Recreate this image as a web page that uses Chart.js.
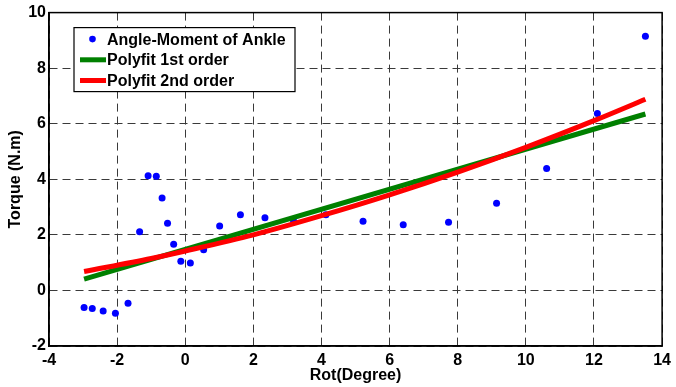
<!DOCTYPE html>
<html>
    <head>
        <meta charset="utf-8">
        <title>Angle-Moment of Ankle</title>
        <script src="https://cdn.jsdelivr.net/npm/chart.js@4.4.0/dist/chart.umd.min.js"></script>
        <style>
            html, body { margin: 0; padding: 0; background: #fff; }
            #wrap { width: 676px; height: 387px; }
        </style>
    </head>
    <body>
        <div id="wrap"><canvas id="ankle-chart"></canvas></div>
        <script>
            // measured points
            var rotDeg = [-2.97, -2.73, -2.41, -2.05, -1.68, -1.34, -1.09, -0.85, -0.68, -0.52, -0.34, -0.13, 0.15,
                          0.54, 1.01, 1.62, 2.34, 3.18, 4.13, 5.22, 6.40, 7.73, 9.14, 10.61, 12.10, 13.51];
            var torque = [-0.61, -0.65, -0.74, -0.82, -0.46, 2.11, 4.13, 4.11, 3.33, 2.42, 1.66, 1.05, 0.99,
                          1.46, 2.32, 2.72, 2.62, 2.50, 2.72, 2.49, 2.36, 2.45, 3.14, 4.39, 6.37, 9.15];

            // fitted curves
            var fit1X = [-2.97, 13.51];
            var fit1Y = [0.41, 6.35];
            var fit2X = [-2.97, -1, 0, 2, 4, 6, 8, 10, 12, 13.51];
            var fit2Y = [0.68, 1.15, 1.42, 2.0, 2.69, 3.44, 4.26, 5.15, 6.11, 6.88];

            var xTicks = [-4, -2, 0, 2, 4, 6, 8, 10, 12, 14];
            var yTicks = [-2, 0, 2, 4, 6, 8, 10];
            var seriesNames = ['Angle-Moment of Ankle', 'Polyfit 1st order', 'Polyfit 2nd order'];

            var FONT = 'Liberation Sans, Arial, sans-serif';

            function toXY(xs, ys) {
                return xs.map(function(x, i) { return {x: x, y: ys[i]}; });
            }

            // black box round the plot + matlab legend
            var framePlugin = {
                id: 'frame',
                afterDraw: function(chart) {
                    var ctx = chart.ctx, a = chart.chartArea;
                    ctx.save();
                    ctx.strokeStyle = '#000';
                    ctx.lineWidth = 1.5;
                    ctx.strokeRect(a.left, a.top, a.right - a.left, a.bottom - a.top);

                    var bx = a.left + 25, by = a.top + 15, bw = 221, bh = 64;
                    ctx.fillStyle = '#fff';
                    ctx.fillRect(bx, by, bw, bh);
                    ctx.lineWidth = 1.2;
                    ctx.strokeRect(bx, by, bw, bh);

                    ctx.font = 'bold 16px ' + FONT;
                    ctx.textBaseline = 'middle';
                    var ds = chart.data.datasets;
                    for (var i = 0; i < seriesNames.length; i++) {
                        var d = ds.find(function(s) { return s.label === seriesNames[i]; });
                        var ry = by + 11.5 + i * 20.7;
                        if (d.showLine === false) {
                            ctx.fillStyle = d.backgroundColor;
                            ctx.beginPath();
                            ctx.arc(bx + 18.5, ry, 3.3, 0, Math.PI * 2);
                            ctx.fill();
                        } else {
                            ctx.strokeStyle = d.borderColor;
                            ctx.lineWidth = 5;
                            ctx.beginPath();
                            ctx.moveTo(bx + 6, ry);
                            ctx.lineTo(bx + 32, ry);
                            ctx.stroke();
                        }
                        ctx.fillStyle = '#000';
                        ctx.fillText(seriesNames[i], bx + 33, ry + 1);
                    }
                    ctx.restore();
                }
            };

            var gridOpts = {color: '#3a3a3a', lineWidth: 1, drawTicks: false};
            var borderOpts = {display: true, color: '#000', width: 1.5, dash: [8, 5]};

            new Chart(document.getElementById('ankle-chart'), {
                type: 'scatter',
                data: {
                    datasets: [
                        {
                            label: seriesNames[0],
                            data: toXY(rotDeg, torque),
                            showLine: false,
                            backgroundColor: '#0000ff',
                            borderColor: '#0000ff',
                            pointRadius: 3.5,
                            pointBorderWidth: 0,
                            order: 3
                        },
                        {
                            label: seriesNames[1],
                            data: toXY(fit1X, fit1Y),
                            showLine: true,
                            borderColor: '#008000',
                            backgroundColor: '#008000',
                            borderWidth: 5,
                            pointRadius: 0,
                            order: 2
                        },
                        {
                            label: seriesNames[2],
                            data: toXY(fit2X, fit2Y),
                            showLine: true,
                            borderColor: '#ff0000',
                            backgroundColor: '#ff0000',
                            borderWidth: 5,
                            cubicInterpolationMode: 'monotone',
                            pointRadius: 0,
                            order: 1
                        }
                    ]
                },
                options: {
                    responsive: true,
                    maintainAspectRatio: false,
                    animation: false,
                    layout: {padding: {top: 12, right: 8, bottom: 0, left: 0}},
                    plugins: {
                        legend: {display: false},
                        tooltip: {enabled: false}
                    },
                    scales: {
                        x: {
                            type: 'linear',
                            min: xTicks[0],
                            max: xTicks[xTicks.length - 1],
                            afterBuildTicks: function(s) { s.ticks = xTicks.map(function(v) { return {value: v}; }); },
                            afterFit: function(s) { s.height = 41; },
                            ticks: {color: '#000', padding: 5, font: {family: FONT, size: 16, weight: 'bold'}},
                            grid: gridOpts,
                            border: borderOpts,
                            title: {
                                display: true,
                                text: 'Rot(Degree)',
                                color: '#000',
                                padding: {top: 0, bottom: 2},
                                font: {family: FONT, size: 16, weight: 'bold'}
                            }
                        },
                        y: {
                            type: 'linear',
                            min: yTicks[0],
                            max: yTicks[yTicks.length - 1],
                            afterBuildTicks: function(s) { s.ticks = yTicks.map(function(v) { return {value: v}; }); },
                            afterFit: function(s) { s.width = 49; },
                            ticks: {color: '#000', padding: 3, font: {family: FONT, size: 16, weight: 'bold'}},
                            grid: gridOpts,
                            border: borderOpts,
                            title: {
                                display: true,
                                text: 'Torque (N.m)',
                                color: '#000',
                                padding: {top: 6, bottom: 0},
                                font: {family: FONT, size: 16, weight: 'bold'}
                            }
                        }
                    }
                },
                plugins: [framePlugin]
            });
        </script>
    </body>
</html>
